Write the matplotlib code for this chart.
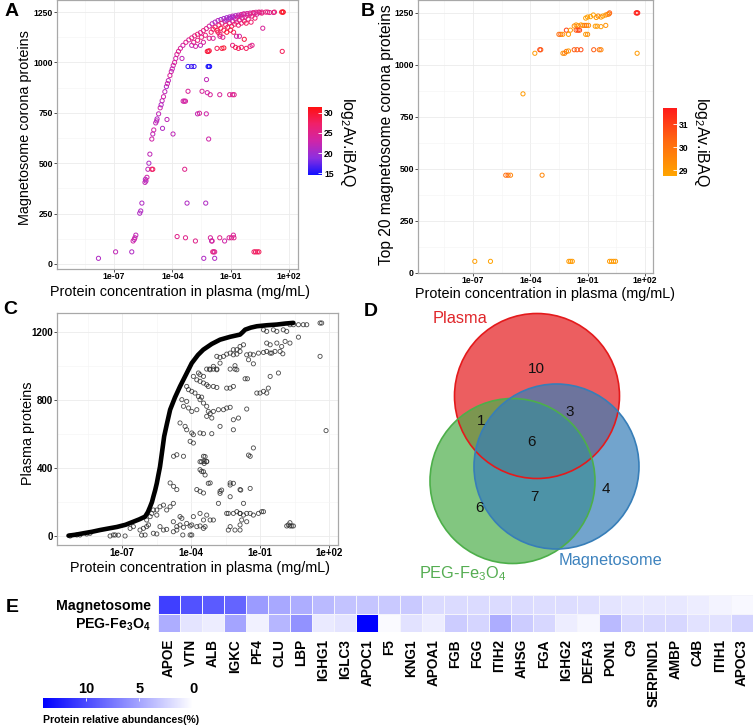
import matplotlib
matplotlib.use("Agg")
import matplotlib.pyplot as plt
import numpy as np
from matplotlib.colors import LinearSegmentedColormap, Normalize
from matplotlib.cm import ScalarMappable
from matplotlib.patches import Circle
from matplotlib.ticker import FixedLocator, NullFormatter

plt.rcParams["font.family"] = ["Liberation Sans", "DejaVu Sans"]
plt.rcParams["mathtext.fontset"] = "custom"
plt.rcParams["mathtext.rm"] = "Liberation Sans"
plt.rcParams["mathtext.bf"] = "Liberation Sans:bold"
plt.rcParams["mathtext.default"] = "regular"

W, H = 753, 728

# ---------------- data ----------------
# Panel A: log10 plasma concentration, corona rank, log2 Av.iBAQ
a_logc = [-7.79, -6.91, -6.08, -6.01, -5.95, -5.92, -5.87, -5.67, -5.62, -5.56, -5.40, -5.38,
          -5.35, -5.30, -5.25, -5.20, -5.15, -5.05, -5.00, -4.95, -4.85, -4.78, -4.70, -4.62,
          -4.57, -4.52, -4.45, -4.38, -4.30, -4.25, -4.20, -4.12, -4.05, -4.00, -3.95, -3.88,
          -3.82, -3.76, -3.68, -3.58, -3.45, -3.30, -3.15, -3.00, -2.85, -2.70, -2.55, -2.40,
          -2.25, -2.10, -1.95, -1.80, -1.65, -1.50, -1.35, -1.20, -1.05, -0.90, -0.75, -0.60,
          -0.45, -0.30, -0.15, 0.00, 0.15, 0.30, 0.45, 0.60, 0.90, 1.20,
          -3.19, -3.01, -2.88, -2.16, -2.08, -2.12,
          -3.50, -2.24, -3.19, -2.47, -2.20, -2.05, -1.56, -1.05, -0.90, -0.82, -3.44, -3.32,
          -3.38, -2.70, -2.60, -2.25, -2.13, -3.96, -4.50, -4.27, -4.80, -3.36, -5.00, -5.05,
          -3.75, -3.32, -3.24, -2.81, -2.38, -2.28, -2.04, -1.98, -1.95, -1.92, -1.87, -1.82,
          -1.82, -1.56, -1.31, -1.08, -0.96, -0.86, -0.83, 0.20, 0.28, 0.37, 0.45,
          -3.00, -2.80, -2.55, -2.20, -2.15, -2.10, -1.70, -1.45, -1.35, -0.90, -0.75, -0.60,
          -0.45, -0.20, 0.00, 0.10, -2.40, -2.10, -1.90, -1.55, -1.40, -0.70, -0.55, -0.30,
          0.65, 1.65, 1.62, 1.68, 1.70,
          -1.90, -1.80, -1.70, -1.60, -1.50, -1.45, -1.35, -1.30, -1.25, -1.20, -1.15, -1.10,
          -1.05, -1.00, -0.95, -0.90, -0.85, -0.80, -0.75, -0.70, -0.65, -0.60, -0.55, -0.50,
          -0.45, -0.40, -0.35, -0.30, -0.25, -0.20, -0.15, -0.10, 0.00, 0.05, 0.10, 0.20,
          0.25, 0.35, 0.50, 0.60, 0.80, 1.00, 1.25, -1.65, -1.55, -1.20, -1.00, -0.85,
          -2.00, -2.30, -2.50, -2.70, -2.90]
a_rank = [28, 60, 60, 114, 122, 130, 143, 252, 263, 302, 405, 420,
          412, 430, 470, 500, 545, 620, 645, 665, 700, 720, 745, 775,
          790, 810, 830, 855, 880, 895, 910, 935, 955, 968, 985, 1000,
          1020, 1040, 1055, 1070, 1085, 1100, 1112, 1122, 1132, 1140, 1148, 1158,
          1168, 1180, 1192, 1200, 1208, 1213, 1218, 1222, 1226, 1230, 1232, 1235,
          1238, 1241, 1243, 1245, 1247, 1249, 1250, 1250, 1250, 1248,
          980, 980, 980, 980, 980, 980,
          1020, 915, 857, 857, 850, 840, 840, 840, 840, 840, 808, 808,
          808, 745, 748, 745, 620, 645, 673, 717, 710, 470, 470, 470,
          136, 130, 302, 114, 28, 302, 130, 114, 114, 60, 60, 60,
          28, 130, 114, 130, 130, 143, 130, 60, 60, 60, 60,
          1085, 1080, 1085, 1055, 1055, 1058, 1070, 1070, 1072, 1085, 1075, 1070,
          1075, 1070, 1080, 1085, 1100, 1120, 1120, 1130, 1125, 1130, 1130, 1115,
          1170, 1055, 1250, 1250, 1250,
          1165, 1175, 1160, 1185, 1170, 1195, 1160, 1205, 1185, 1210, 1175, 1215,
          1195, 1220, 1180, 1205, 1225, 1190, 1215, 1200, 1225, 1185, 1210, 1230,
          1195, 1220, 1240, 1205, 1225, 1195, 1235, 1215, 1240, 1200, 1230, 1245,
          1220, 1240, 1248, 1245, 1250, 1248, 1250, 1150, 1140, 1150, 1160, 1150,
          1150, 1135, 1125, 1110, 1100]
a_ibaq = [21, 22, 21, 23, 22, 23, 22, 21, 21, 21, 22, 21,
          22, 23, 22, 21, 22, 23, 22, 23, 22, 21, 22, 23,
          21, 22, 23, 22, 21, 23, 22, 24, 23, 22, 23, 24,
          23, 24, 25, 24, 23, 25, 24, 26, 25, 27, 24, 26,
          25, 24, 22, 21, 22, 20, 21, 20, 21, 22, 21, 22,
          23, 22, 24, 23, 25, 24, 26, 25, 26, 24,
          16, 16.5, 16, 15, 15, 15,
          22, 22, 24, 24, 23, 24, 24, 25, 24, 25, 23, 24,
          23, 22, 24, 23, 23, 22, 21, 22, 22, 25, 28, 27,
          25, 25, 21, 25, 21, 21, 24, 22, 24, 25, 26, 24,
          21, 25, 23, 24, 25, 24, 25, 27, 28, 27, 28,
          22, 23, 22, 29, 30, 29, 28, 29, 30, 26, 28, 28,
          27, 28, 26, 25, 24, 25, 24, 24, 25, 23, 24, 29,
          24, 28, 30, 31, 30,
          27, 28, 29, 26, 29, 27, 28, 22, 27, 21, 28, 21,
          26, 20, 28, 23, 21, 27, 22, 26, 24, 27, 25, 23,
          26, 24, 25, 27, 24, 28, 24, 26, 25, 27, 25, 26,
          27, 24, 25, 26, 26, 25, 27, 28, 27, 30, 29, 28,
          27, 26, 26, 26, 25]

# Panel B: top 20 magnetosome corona proteins
b_logc = [1.54, 1.58, 1.62, 1.59,
          0.15, 0.12, 0.05, -0.05, -0.20, -0.30, -0.45, -0.55, -0.70, -0.85, -1.00, -1.10,
          -0.50, -0.60, -0.30, -0.05,
          -1.25, -1.15, -1.05, -0.95, -1.35, -1.50, -1.60, -1.70,
          -2.11, -1.90, -1.60, -1.50, -1.42,
          -2.50, -2.40, -2.30, -2.00, -1.10, -1.00,
          -3.50, -3.45, -3.76, -2.29, -2.20, -2.11, -2.00, -1.70, -1.55, -1.35, -0.68, -0.39, -0.30,
          -4.38, -5.28, -5.16, -5.03, -3.38,
          -6.90, -6.08, -1.98, -1.89, -1.80, 0.15, 0.25, 0.36, 0.46]
b_rank = [1250, 1250, 1250, 1056,
          1250, 1245, 1243, 1240, 1235, 1230, 1235, 1228, 1240, 1232, 1230, 1225,
          1186, 1186, 1184, 1190,
          1190, 1190, 1190, 1190, 1192, 1188, 1192, 1187,
          1167, 1167, 1167, 1167, 1167,
          1147, 1147, 1147, 1147, 1147, 1147,
          1073, 1073, 1056, 1056, 1056, 1065, 1067, 1073, 1073, 1073, 1073, 1073, 1073,
          861, 470, 470, 470, 470,
          56, 56, 56, 56, 56, 56, 56, 56, 56]
b_ibaq = [31.6, 31.5, 31.6, 29.0,
          30.5, 30.0, 29.5, 29.3, 29.0, 29.0, 29.5, 29.0, 28.9, 28.8, 29.0, 28.8,
          29.0, 28.9, 29.0, 29.2,
          29.5, 29.8, 30.0, 29.2, 29.0, 29.6, 29.0, 29.3,
          31.0, 29.0, 30.5, 31.0, 30.8,
          30.0, 30.3, 29.0, 29.0, 29.0, 29.3,
          31.0, 30.5, 29.0, 29.3, 29.5, 30.0, 29.0, 30.5, 30.5, 30.8, 30.5, 30.0, 29.5,
          29.0, 30.0, 30.3, 29.5, 29.5,
          28.9, 28.8, 29.0, 29.0, 29.0, 29.0, 29.0, 29.0, 29.0]

# Panel C: all plasma proteins, sorted curve and off-curve points
c_curve_logc = [-9.33, -9.00, -8.68, -8.30, -7.96, -7.60, -7.23, -6.85, -6.51, -6.25, -6.00,
                -5.88, -5.78, -5.70, -5.64, -5.56, -5.49, -5.42, -5.35, -5.25, -5.17, -5.05,
                -4.91, -4.70, -4.48, -4.20, -3.97, -3.70, -3.47, -3.10, -2.74, -2.30, -1.87,
                -1.75, -1.65, -1.40, -1.14, -0.70, -0.27, 0.10, 0.45]
c_curve_rank = [2, 8, 16, 25, 35, 44, 53, 66, 84, 98, 114,
                140, 172, 200, 231, 270, 310, 360, 408, 506, 586, 660,
                743, 815, 880, 955, 1017, 1065, 1096, 1130, 1155, 1172, 1185,
                1200, 1214, 1226, 1234, 1240, 1244, 1250, 1254]
c_logc = [1.61, 1.68, 1.61, 0.67, 1.87, 0.30, 0.45, 0.67, 0.88, 1.03,
          -0.85, -0.71, -0.42, -0.27, 0.01, 0.16, -0.71, -0.56, -0.27, -0.06, 0.09, 0.30,
          -1.07, -0.85, -0.71, -0.56, -0.49, -0.35, -0.13, -0.01, -1.58, -1.43, -1.29, -1.50,
          -2.88, -2.74, -2.59, -2.45, -2.30, -2.16, -2.01, -1.87, -2.16, -2.01, -1.87, -1.72,
          -2.74, -3.03, -2.88, -3.17, -3.32, -3.20, -3.03, -2.88, -2.30, -2.09, -2.01,
          -3.68, -3.61, -3.46, -1.65, -1.55, -2.09, -1.29,
          -3.90, -3.75, -3.61, -3.46, -3.32, -3.25, -4.19, -4.11, -3.97, -3.83, -3.68, -3.54,
          -3.03, -2.88, -2.45, -2.30, -2.16, -1.14, -1.00, -0.85, -0.71, -0.56, -0.20, -0.64,
          -4.40, -4.19, -4.33, -4.11, -3.97, -3.75, -3.61, -3.46, -3.32,
          -3.25, -3.17, -3.03, -2.81, -2.59, -2.45, -2.30, -3.32, -3.10, -2.16, -1.94, -1.58,
          -2.74, -2.16, -4.48, -4.26, -4.19, -3.97, -3.90, -4.04, -3.90, -3.61, -3.46, -3.10,
          -4.76, -4.62, -4.33, -3.46, -3.32, -3.43, -3.61, -3.54, -1.29, -1.43,
          -4.91, -4.76, -4.62, -3.75, -3.61, -3.46, -3.17, -2.74, -2.30, -1.87,
          -9.26, -8.97, -8.83, -8.54, -8.39, -7.52, -7.38, -7.30, -7.16, -6.87,
          -6.65, -6.51, -6.22, -6.07, -5.93, -5.85, -5.93, -5.78, -5.71, -5.64,
          -5.49, -5.35, -5.20, -5.49, -5.06, -4.91, -4.77, -5.35, -5.20, -5.06, -5.64, -5.49,
          -4.77, -4.62, -4.48, -4.33, -4.19, -4.04, -3.97, -4.48, -4.40,
          -3.90, -3.61, -3.46, -3.32, -3.17, -3.03, -4.36, -3.97, -3.75, -3.61, -3.46, -3.39,
          -2.81, -2.67, -2.30, -1.87, -1.72, -2.16, -2.30, -1.87, -1.43, -1.50,
          -3.61, -3.54, -3.39, -3.32, -3.43, -3.46, -3.39, -3.25, -2.74, -2.30, -1.84,
          -2.45, -2.38, -2.16, -2.01, -1.87, -1.72, -1.58, -1.43, -1.29, -1.07, -0.93, -0.85,
          -2.38, -2.09, -1.87, -1.80, -1.58, 0.16, 0.23, 0.30, 0.38, 0.45, 0.30,
          -4.04, -4.77, -4.62, -6.15, -6.00]
c_rank = [1253, 1253, 1057, 1170, 620, 1243, 1243, 1243, 1243, 1243,
          1213, 1204, 1213, 1204, 1213, 1204, 1135, 1125, 1135, 1115, 1145, 1135,
          1076, 1080, 1086, 1076, 1076, 1086, 1086, 1072, 1066, 1070, 1066, 1037,
          1057, 1051, 1057, 1070, 1076, 1066, 1070, 1086, 1096, 1096, 1115, 1125,
          1017, 998, 978, 978, 982, 982, 982, 982, 982, 982, 978,
          959, 949, 939, 925, 925, 1002, 1013,
          939, 919, 910, 900, 890, 880, 880, 861, 851, 841, 821, 817,
          880, 874, 870, 870, 880, 841, 841, 851, 841, 939, 959, 870,
          802, 792, 763, 753, 733, 743, 802, 782, 763,
          733, 720, 733, 743, 743, 753, 757, 704, 694, 684, 694, 747,
          645, 625, 665, 645, 625, 606, 596, 557, 547, 606, 602, 602,
          469, 478, 469, 469, 439, 439, 390, 380, 518, 469,
          312, 292, 273, 273, 263, 253, 312, 263, 312, 273,
          0, 6, 6, 12, 16, 0, 6, 6, 5, 0,
          45, 55, 35, 45, 55, 65, 94, 114, 133, 153,
          153, 172, 182, 123, 153, 172, 192, 55, 35, 39, 16, 12,
          84, 55, 65, 51, 74, 59, 65, 114, 104,
          114, 133, 94, 123, 94, 94, 6, 6, 55, 59, 45, 55,
          192, 270, 231, 133, 192, 310, 55, 35, 280, 476,
          437, 437, 467, 437, 427, 378, 359, 310, 251, 300, 270,
          133, 133, 133, 143, 133, 123, 133, 133, 123, 133, 143, 143,
          35, 35, 65, 94, 84, 59, 65, 59, 59, 59, 78,
          6, 25, 35, 5, 6]

# Panel D: Venn counts
venn_labels = ["Plasma", "PEG-Fe$_3$O$_4$", "Magnetosome"]
venn_counts = {"P": 10, "G": 6, "M": 4, "PG": 1, "PM": 3, "GM": 7, "PGM": 6}

# Panel E: relative abundance (%) of the top corona proteins
e_proteins = ["APOE", "VTN", "ALB", "IGKC", "PF4", "CLU", "LBP", "IGHG1", "IGLC3", "APOC1",
              "F5", "KNG1", "APOA1", "FGB", "FGG", "ITIH2", "AHSG", "FGA", "IGHG2", "DEFA3",
              "PON1", "C9", "SERPIND1", "AMBP", "C4B", "ITIH1", "APOC3"]
e_rows = ["Magnetosome", "PEG-Fe$_\\mathbf{3}$O$_\\mathbf{4}$"]
e_magnetosome = [10.5, 9.5, 9.0, 8.5, 5.5, 4.8, 4.5, 3.8, 3.3, 3.2,
                 3.0, 3.0, 2.0, 2.0, 2.0, 2.0, 2.0, 1.9, 1.9, 1.8,
                 1.5, 1.3, 1.3, 1.3, 1.0, 0.7, 0.4]
e_peg = [4.5, 1.5, 1.0, 5.0, 0.8, 4.0, 6.0, 1.2, 1.5, 14.0,
         0.3, 1.6, 1.0, 2.8, 2.3, 4.5, 2.8, 2.2, 1.0, 0.5,
         3.8, 2.2, 2.2, 2.2, 1.6, 1.6, 2.4]


# ---------------- layout helpers ----------------
def rect(x0, y0, x1, y1):
    return [x0 / W, 1 - y1 / H, (x1 - x0) / W, (y1 - y0) / H]


def fxy(x, y):
    return x / W, 1 - y / H


def style_scatter_axes(ax, xlim, ylim, yticks, ysub, tsize):
    ax.set_xscale("log")
    ax.set_xlim(10.0 ** xlim[0], 10.0 ** xlim[1])
    ax.set_ylim(*ylim)
    ax.set_xticks(10.0 ** np.array([-7, -4, -1, 2]))
    ax.set_xticklabels(["1e-07", "1e-04", "1e-01", "1e+02"])
    ax.xaxis.set_minor_locator(FixedLocator(10.0 ** np.array([-8.5, -5.5, -2.5, 0.5])))
    ax.xaxis.set_minor_formatter(NullFormatter())
    ax.set_yticks(yticks)
    ax.yaxis.set_minor_locator(FixedLocator(ysub))
    ax.grid(which="major", color="#ebebeb", linewidth=0.6)
    ax.grid(which="minor", color="#f4f4f4", linewidth=0.4)
    ax.set_axisbelow(True)
    ax.tick_params(which="minor", length=0)
    ax.tick_params(which="major", length=2, width=0.6, color="#333333",
                   labelsize=tsize, pad=1, labelcolor="black")
    ax.tick_params(axis="x", which="major", pad=0.5)
    for lab in ax.get_xticklabels() + ax.get_yticklabels():
        lab.set_fontweight("bold")
    for sp in ax.spines.values():
        sp.set_color("#a8a8a8")
        sp.set_linewidth(0.9)


def add_colorbar(fig, box, cmap, norm, ticks, label, label_xy):
    cax = fig.add_axes(rect(*box))
    cb = fig.colorbar(ScalarMappable(norm=norm, cmap=cmap), cax=cax)
    cb.outline.set_visible(False)
    cb.set_ticks(ticks)
    cax.tick_params(length=3, width=0.6, color="white", direction="in",
                    labelsize=6.2, pad=1.5)
    for lab in cax.get_yticklabels():
        lab.set_fontweight("bold")
    x, y = fxy(*label_xy)
    fig.text(x, y, label, rotation=270, ha="center", va="center", fontsize=11.5)


fig = plt.figure(figsize=(W / 100, H / 100), dpi=100)
fig.patch.set_facecolor("white")

# ---------------- panel A ----------------
cmap_a = LinearSegmentedColormap.from_list(
    "a", ["#1010ff", "#8c2fe0", "#cf25a8", "#f0206a", "#ff1010"])
norm_a = Normalize(14.6, 31.4)
ax_a = fig.add_axes(rect(57, 0, 298, 269))
ax_a.scatter(np.power(10.0, a_logc), a_rank, s=9, facecolors="none",
             edgecolors=cmap_a(norm_a(np.array(a_ibaq))), linewidths=0.7, zorder=3)
style_scatter_axes(ax_a, (-9.92, 2.46), (-25, 1310), [0, 250, 500, 750, 1000, 1250],
                   [125, 375, 625, 875, 1125], 6.2)
add_colorbar(fig, (308, 107, 322, 175), cmap_a, norm_a, [15, 20, 25, 30],
             "log$_2$Av.iBAQ", (347, 142))

# ---------------- panel B ----------------
cmap_b = LinearSegmentedColormap.from_list("b", ["#ffa500", "#ff6a10", "#ff1a1a"])
norm_b = Normalize(28.74, 31.7)
ax_b = fig.add_axes(rect(418, 0, 653, 273))
ax_b.scatter(np.power(10.0, b_logc), b_rank, s=9, facecolors="none",
             edgecolors=cmap_b(norm_b(np.array(b_ibaq))), linewidths=0.7, zorder=3)
style_scatter_axes(ax_b, (-9.87, 2.42), (0, 1312), [0, 250, 500, 750, 1000, 1250],
                   [125, 375, 625, 875, 1125], 6.2)
add_colorbar(fig, (663, 108, 677, 176), cmap_b, norm_b, [29, 30, 31],
             "log$_2$Av.iBAQ", (702, 142))

# ---------------- panel C ----------------
ax_c = fig.add_axes(rect(57, 313, 338, 545))
ax_c.plot(np.power(10.0, c_curve_logc), c_curve_rank, color="black", linewidth=3.3,
          solid_capstyle="round", zorder=4)
ax_c.scatter(np.power(10.0, c_logc), c_rank, s=9, facecolors="none",
             edgecolors="#2a2a2a", linewidths=0.6, alpha=0.85, zorder=3)
style_scatter_axes(ax_c, (-9.83, 2.39), (-53, 1312), [0, 400, 800, 1200],
                   [200, 600, 1000], 7)

# axis titles for A, B, C
label_kw = dict(fontsize=10.4, ha="center", va="center")
fig.text(*fxy(180, 292), "Protein concentration in plasma (mg/mL)", **label_kw)
fig.text(*fxy(545, 294), "Protein concentration in plasma (mg/mL)", **label_kw)
fig.text(*fxy(200, 568), "Protein concentration in plasma (mg/mL)", **label_kw)
fig.text(*fxy(25, 128), "Magnetosome corona proteins", rotation=90, **label_kw)
fig.text(*fxy(386, 135), "Top 20 magnetosome corona proteins", rotation=90,
         fontsize=11.2, ha="center", va="center")
fig.text(*fxy(28, 433), "Plasma proteins", rotation=90, **label_kw)

# ---------------- panel D (Venn) ----------------
ax_d = fig.add_axes(rect(380, 300, 753, 590))
ax_d.set_xlim(380, 753)
ax_d.set_ylim(590, 300)
ax_d.axis("off")
venn_colors = ["#E41A1C", "#4DAF4A", "#377EB8"]
venn_centers = [(537, 396), (512.5, 481), (556.5, 466.5)]
for (cx, cy), col in zip(venn_centers, venn_colors):
    ax_d.add_patch(Circle((cx, cy), 82.5, facecolor=col, edgecolor="none", alpha=0.7))
for (cx, cy), col in zip(venn_centers, venn_colors):
    ax_d.add_patch(Circle((cx, cy), 82.5, facecolor="none", edgecolor=col, linewidth=1.2))
count_pos = {"P": (536, 369), "PM": (570, 412), "PG": (481, 421), "PGM": (532, 442),
             "GM": (534, 497), "M": (606, 489), "G": (480, 508)}
for key, (px, py) in count_pos.items():
    ax_d.text(px, py, str(venn_counts[key]), ha="center", va="center", fontsize=11,
              color="#111111")
ax_d.text(460, 318, venn_labels[0], ha="center", va="center", fontsize=11.8, color="#E0262A")
ax_d.text(463, 574, venn_labels[1], ha="center", va="center", fontsize=11.8, color="#55AD52")
ax_d.text(610, 560, venn_labels[2], ha="center", va="center", fontsize=11.8, color="#3E83BE")

# ---------------- panel E (heatmap) ----------------
cmap_e = LinearSegmentedColormap.from_list("e", ["#ffffff", "#0000ff"])
norm_e = Normalize(0, 14)
ax_e = fig.add_axes(rect(158, 595, 753, 632))
grid = np.array([e_magnetosome, e_peg])
ax_e.pcolormesh(np.arange(len(e_proteins) + 1), np.arange(3), grid, cmap=cmap_e,
                norm=norm_e, edgecolors="#f4f4fb", linewidth=0.5)
ax_e.set_xlim(0, len(e_proteins))
ax_e.set_ylim(2, 0)
ax_e.set_xticks(np.arange(len(e_proteins)) + 0.5)
ax_e.set_xticklabels(e_proteins, rotation=90, fontsize=9.8, fontweight="bold")
ax_e.set_yticks([0.5, 1.5])
ax_e.set_yticklabels(e_rows, fontsize=10.2, fontweight="bold")
ax_e.tick_params(length=0, pad=5)
for sp in ax_e.spines.values():
    sp.set_visible(False)

cax_e = fig.add_axes(rect(43, 698, 193, 708))
cb_e = fig.colorbar(ScalarMappable(norm=norm_e, cmap=cmap_e), cax=cax_e,
                    orientation="horizontal")
cb_e.outline.set_visible(False)
cax_e.invert_xaxis()
cb_e.set_ticks([0, 5, 10])
cax_e.xaxis.set_ticks_position("top")
cax_e.tick_params(length=2.5, width=0.6, color="white", direction="in",
                  labelsize=10.5, pad=1.5)
for lab in cax_e.get_xticklabels():
    lab.set_fontweight("bold")
fig.text(*fxy(43, 720), "Protein relative abundances(%)", ha="left", va="center",
         fontsize=7.6, fontweight="bold")

# ---------------- panel letters ----------------
for letter, (px, py) in {"A": (12, 12), "B": (368, 12), "C": (10, 309),
                         "D": (371, 311), "E": (12, 607)}.items():
    fig.text(*fxy(px, py), letter, ha="center", va="center", fontsize=14,
             fontweight="bold")

fig.savefig("out.png", dpi=100)
